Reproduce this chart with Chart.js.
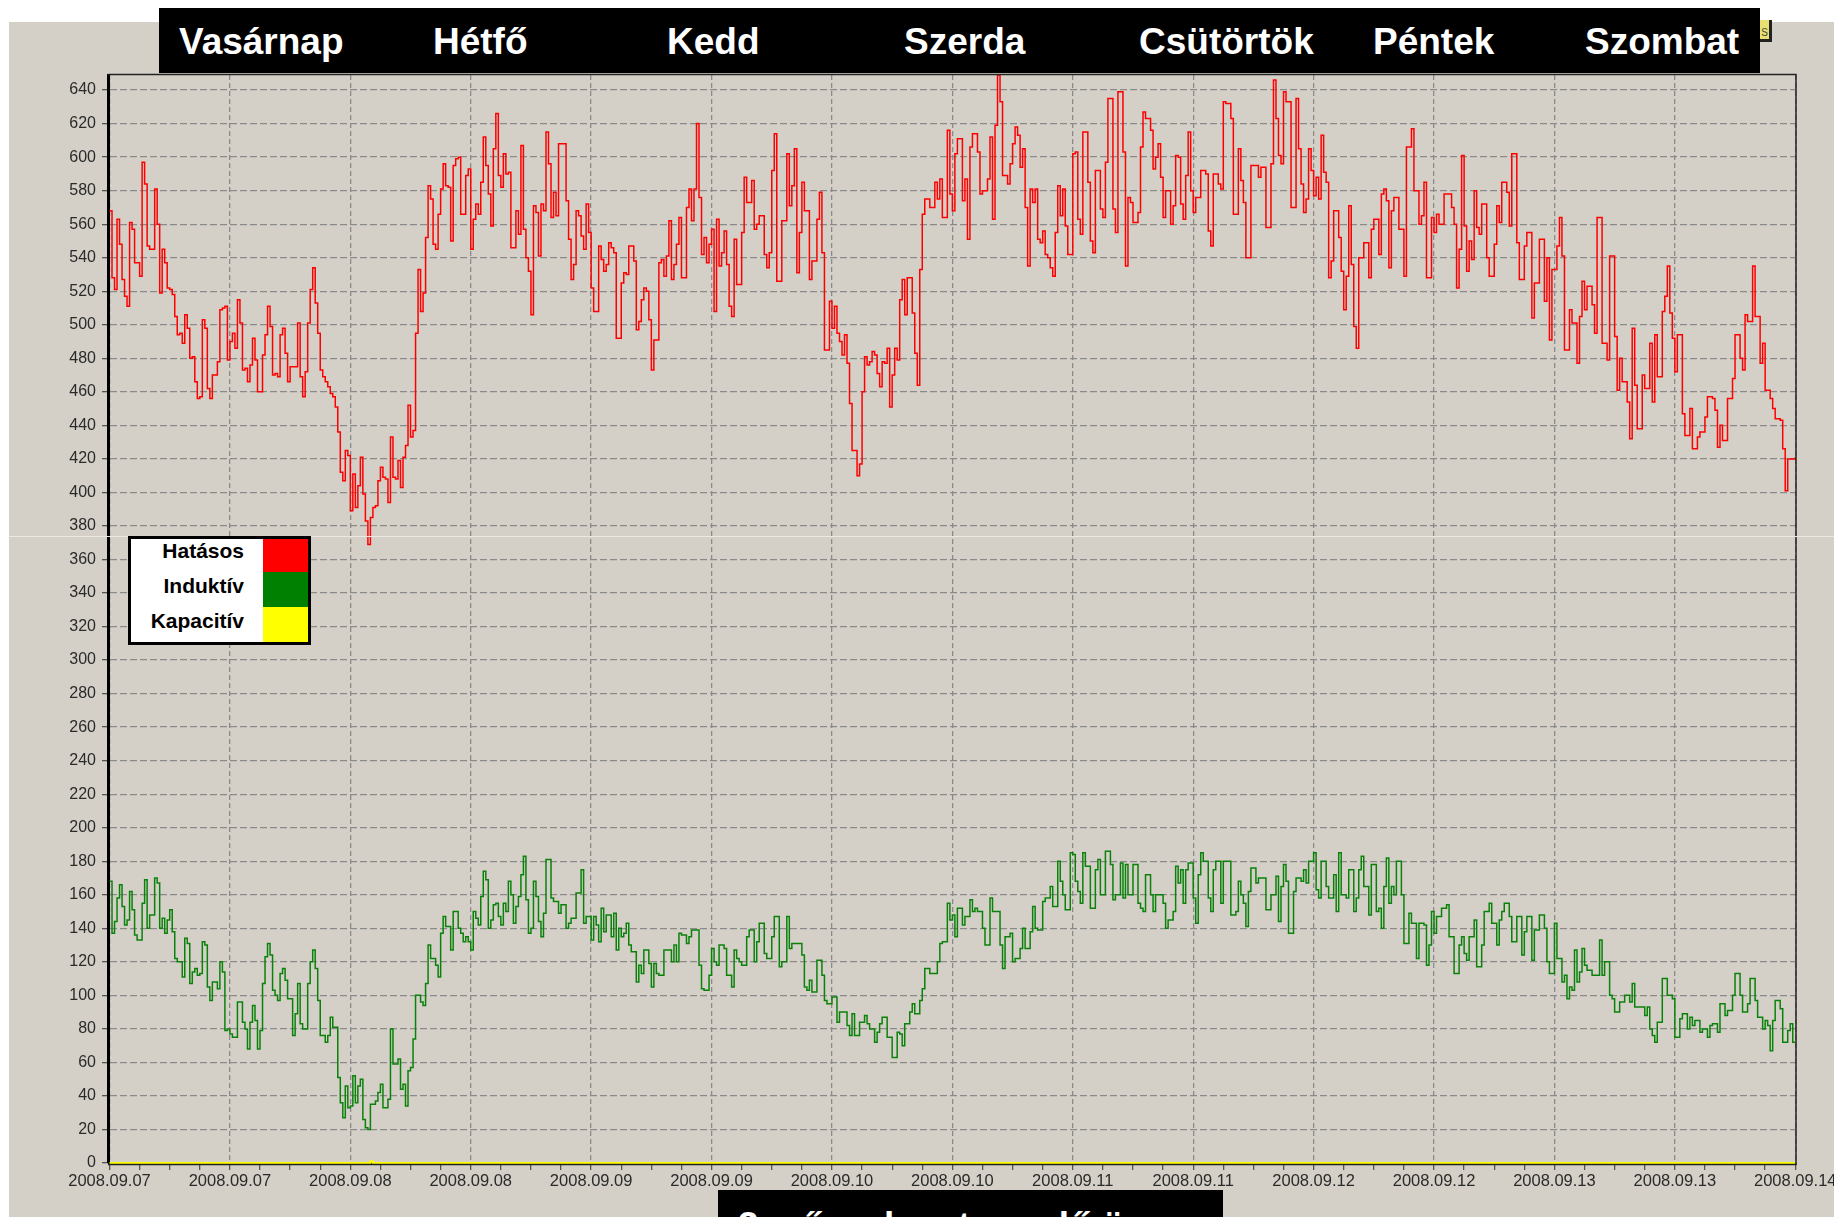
<!DOCTYPE html>
<html lang="hu">
<head>
<meta charset="utf-8">
<title>Terhelési görbe</title>
<script src="https://cdn.jsdelivr.net/npm/chart.js@4"></script>
<style>
html,body{margin:0;padding:0;background:#fff;width:1834px;height:1217px;overflow:hidden;font-family:"Liberation Sans",Arial,sans-serif}
#panel{position:absolute;left:9px;top:22px;right:0;bottom:0;background:#D4D0C8}
#chart{position:absolute;left:0;top:0}
#seam{position:absolute;left:9px;right:0;top:536px;height:1px;background:#ece9e3}
#banner{position:absolute;left:159px;top:8px;width:1601px;height:65px;background:#000}
.day{position:absolute;top:12px;line-height:44px;font-size:37px;font-weight:bold;color:#fff;white-space:nowrap}
#icon{position:absolute;left:1760px;top:20px;width:9px;height:19px;background:#e8e070;border-right:3px solid #222;border-bottom:3px solid #222;font-size:10px;line-height:26px;color:#444;text-align:center;overflow:hidden}
#foot{position:absolute;left:718px;top:1190px;width:505px;height:27px;background:#000;overflow:hidden}
#foot span{position:absolute;left:20px;top:14px;line-height:44px;font-size:37px;font-weight:bold;color:#fff;white-space:nowrap}
#legend{position:absolute;left:128px;top:536px;width:177px;height:103px;border:3px solid #000;background:#fff}
.lt{position:absolute;right:64px;font-size:21px;line-height:24px;font-weight:bold;color:#000;white-space:nowrap}
.sw{position:absolute;left:132px;width:45px}
</style>
</head>
<body>
<div id="panel"></div>
<canvas id="chart" width="1834" height="1217"></canvas>
<div id="seam"></div>
<div id="icon">S</div>
<div id="banner"></div>
<div id="foot"><span>3 műszakos termelő üzem</span></div>
<div id="legend"></div>
<script>
const dayNames = ["Vasárnap","Hétfő","Kedd","Szerda","Csütörtök","Péntek","Szombat"];
const dayLefts = [179,433,667,904,1139,1373,1585];
const legendNames = ["Hatásos","Induktív","Kapacitív"];
const legendColors = ["#FF0000","#008000","#FFFF00"];
const xTickLabels = ["2008.09.07","2008.09.07","2008.09.08","2008.09.08","2008.09.09","2008.09.09","2008.09.10","2008.09.10","2008.09.11","2008.09.11","2008.09.12","2008.09.12","2008.09.13","2008.09.13","2008.09.14"];

// Hatásos: one list per half day, one value per 15 minutes
const hatasos0 = [568,528,521,563,548,527,517,511,561,557,537,537,529,597,584,547,545,545,581,560,519,545,537,522,521,518,505,494,495,489,506,498,480,481,466,456,457,503,498,462,456,470,470,478,509,510,511,479];
const hatasos1 = [490,495,486,515,501,473,474,466,476,492,479,460,460,482,494,511,499,470,471,469,494,498,483,466,475,475,475,501,469,457,472,501,521,534,513,495,473,469,466,463,459,457,451,436,412,407,425,422];
const hatasos2 = [389,411,391,404,421,399,383,369,385,391,392,407,415,409,408,394,433,409,408,419,403,421,428,452,433,437,495,533,508,519,552,583,575,548,545,566,581,596,583,582,550,595,599,600,566,566,589,593];
const hatasos3 = [545,563,572,566,585,612,595,578,559,605,626,589,582,602,590,591,546,546,568,554,607,557,540,532,506,571,567,541,572,568,615,596,564,579,565,608,608,608,574,551,527,536,568,565,553,545,572,555];
const hatasos4 = [522,508,508,547,539,532,536,549,546,543,492,492,525,531,530,547,547,538,497,502,515,522,520,503,473,491,491,537,539,529,541,562,527,536,548,564,528,528,570,581,562,581,620,576,542,552,537,548];
const hatasos5 = [557,508,563,535,543,556,536,511,505,551,524,524,555,588,573,573,586,557,560,565,565,542,534,543,592,614,526,526,562,562,602,571,583,605,531,555,585,568,568,527,538,538,563,579,543,485,485,514];
const hatasos6 = [498,511,495,490,482,494,477,453,425,425,410,417,460,481,476,478,484,482,471,463,478,477,486,451,470,486,479,515,527,506,528,528,507,483,464,533,566,575,575,570,570,585,575,587,564,564,616,578];
const hatasos7 = [568,602,611,611,574,587,551,606,614,614,603,578,580,580,587,612,563,619,649,633,589,589,584,596,608,618,613,594,605,570,535,581,573,581,551,549,556,542,540,534,529,555,583,565,581,559,542,542];
const hatasos8 = [602,603,563,554,615,615,585,550,543,592,592,569,564,597,635,635,569,555,639,639,603,535,576,573,561,561,567,606,627,623,623,616,593,600,608,588,564,580,580,560,571,601,600,572,563,589,615,580];
const hatasos9 = [567,576,576,592,592,590,556,547,590,590,584,581,633,632,632,623,566,566,605,586,573,540,540,595,595,595,588,594,594,558,558,596,646,623,601,596,639,633,633,570,570,635,605,584,567,575,605,592];
const hatasos10 = [577,588,575,613,591,585,528,538,568,568,552,532,509,529,571,536,499,486,540,540,549,549,528,557,563,563,542,578,581,574,534,568,576,576,557,557,529,606,606,617,580,580,560,565,585,528,528,564];
const hatasos11 = [555,566,560,560,578,578,578,570,560,522,545,601,559,532,550,539,580,558,554,572,572,540,529,529,548,571,561,585,585,579,559,602,602,549,527,527,547,555,555,504,525,525,551,551,514,540,491,533];
const hatasos12 = [533,547,564,541,485,485,509,501,501,477,505,526,509,523,523,512,495,564,564,489,489,479,541,541,493,461,480,466,466,454,432,498,464,438,438,470,462,462,489,454,494,469,469,508,517,535,507,492];
const hatasos13 = [472,494,494,447,434,434,450,426,426,433,436,436,445,457,457,456,449,427,440,431,431,456,456,468,494,494,480,473,506,502,502,535,505,505,477,489,461,461,456,450,444,444,443,426,401,420,420,420,421];

// Induktív
const induktiv0 = [168,137,144,158,166,153,142,145,162,151,136,133,133,155,169,140,148,148,170,167,140,146,137,145,151,138,122,120,120,111,134,131,107,114,116,112,113,132,130,105,97,108,108,104,120,114,79,80];
const induktiv1 = [77,75,75,96,96,84,80,68,84,94,85,68,79,107,123,131,124,103,100,97,113,116,109,98,98,76,89,107,83,80,80,107,120,127,116,97,76,76,72,76,87,81,81,51,36,27,46,33];
const induktiv2 = [34,52,36,46,50,26,21,20,35,35,37,42,47,33,33,38,80,59,59,62,44,47,34,55,57,74,100,100,96,94,107,130,122,122,118,111,137,147,141,141,127,150,150,140,137,132,135,132];
const induktiv3 = [127,150,146,142,159,174,169,140,145,154,155,147,142,155,150,168,160,143,153,159,172,183,157,137,140,168,159,144,135,149,181,181,158,156,156,149,154,154,140,143,146,146,161,161,175,143,147,147];
const induktiv4 = [133,147,142,132,152,138,148,148,135,149,127,140,135,137,143,130,126,126,108,118,113,127,127,119,105,119,113,112,112,127,127,127,120,130,120,137,136,136,131,135,139,139,139,118,104,103,103,112];
const induktiv5 = [128,120,118,130,130,128,112,112,105,127,122,120,118,118,135,139,139,120,132,143,143,125,122,122,135,147,147,117,120,120,147,128,131,131,131,131,124,105,103,109,102,102,121,121,112,97,95,95];
const induktiv6 = [99,99,84,90,90,90,82,76,89,76,76,84,84,88,83,80,80,72,78,83,87,87,75,75,63,63,78,77,70,83,83,90,95,89,89,97,104,116,116,113,113,113,120,131,132,132,155,145];
const induktiv7 = [148,135,152,152,142,147,147,157,150,152,150,150,140,130,130,158,150,150,150,130,116,135,135,137,120,122,122,128,140,128,128,138,153,140,139,139,156,158,158,165,153,153,180,168,160,151,151,185];
const induktiv8 = [184,168,162,155,185,177,177,152,152,175,181,160,160,186,186,178,157,160,160,179,158,178,160,160,178,178,155,152,150,172,172,160,150,160,160,160,155,140,145,145,150,177,167,175,155,175,179,179];
const induktiv9 = [158,143,172,185,180,180,158,150,175,180,180,155,180,180,180,148,148,150,168,160,155,141,162,176,176,167,170,170,170,151,151,160,160,171,144,165,178,168,137,137,162,170,170,168,175,167,180,180];
const induktiv10 = [185,163,158,180,180,165,158,158,172,150,185,160,160,158,175,175,150,158,175,183,165,165,148,178,178,150,152,140,165,182,155,165,160,180,180,160,131,131,149,143,143,122,143,143,142,118,130,150];
const induktiv11 = [137,147,147,152,152,154,135,135,113,113,130,135,125,121,135,135,145,117,117,130,150,150,155,143,143,130,145,150,155,155,147,132,132,147,147,124,138,147,147,121,139,139,148,148,140,120,113,113];
const induktiv12 = [143,122,122,108,112,98,105,103,127,108,114,128,118,115,115,112,112,112,133,112,120,120,100,98,90,90,96,96,100,100,96,107,93,93,93,93,88,93,80,76,72,84,84,110,110,100,100,98];
const induktiv13 = [75,75,86,89,89,80,87,82,85,85,78,80,80,75,82,83,83,78,95,95,88,91,91,100,113,113,100,90,90,95,110,110,97,87,87,80,85,82,67,85,97,97,92,72,72,79,83,72,72];

// Kapacitív: stays on zero apart from one small blip
const kapacitivX = [0,103,104,105,672];
const kapacitivY = [0,0,1,0,0];

const hatasos = [].concat(hatasos0,hatasos1,hatasos2,hatasos3,hatasos4,hatasos5,hatasos6,hatasos7,hatasos8,hatasos9,hatasos10,hatasos11,hatasos12,hatasos13);
const induktiv = [].concat(induktiv0,induktiv1,induktiv2,induktiv3,induktiv4,induktiv5,induktiv6,induktiv7,induktiv8,induktiv9,induktiv10,induktiv11,induktiv12,induktiv13);

const toPoints = vals => vals.map((y,x)=>({x,y}));

const bannerEl = document.getElementById('banner');
dayNames.forEach((n,i)=>{
  const s=document.createElement('span');s.className='day';s.textContent=n;
  s.style.left=(dayLefts[i]-159)+'px';bannerEl.appendChild(s);
});
const legendEl = document.getElementById('legend');
const swTops=[0,33,68], swHs=[33,35,35], ltTops=[0,35,70];
legendNames.forEach((n,i)=>{
  const t=document.createElement('div');t.className='lt';t.textContent=n;t.style.top=ltTops[i]+'px';legendEl.appendChild(t);
  const w=document.createElement('div');w.className='sw';w.style.top=swTops[i]+'px';w.style.height=swHs[i]+'px';w.style.background=legendColors[i];legendEl.appendChild(w);
});

const framePlugin = {
  id:'frame',
  afterDatasetsDraw(c){
    const a=c.chartArea, x=c.ctx;
    x.save();x.strokeStyle='#222';x.lineWidth=1.5;
    x.beginPath();x.moveTo(a.left,a.top-0.5);x.lineTo(a.right,a.top-0.5);x.lineTo(a.right,a.bottom+1.5);x.lineTo(a.left,a.bottom+1.5);x.stroke();
    x.restore();
  }
};

new Chart(document.getElementById('chart'),{
  type:'line',
  plugins:[framePlugin],
  data:{datasets:[
    {label:legendNames[0],data:toPoints(hatasos),borderColor:'#FF0000',borderWidth:1.5,stepped:true,pointRadius:0},
    {label:legendNames[1],data:toPoints(induktiv),borderColor:'#0A820A',borderWidth:1.5,stepped:true,pointRadius:0},
    {label:legendNames[2],data:kapacitivX.map((x,i)=>({x,y:kapacitivY[i]})),borderColor:'#FFFF00',borderWidth:2,stepped:true,pointRadius:0,clip:false}
  ]},
  options:{
    responsive:false,animation:false,
    layout:{padding:{left:0,top:75,right:38,bottom:0}},
    plugins:{legend:{display:false},title:{display:false},tooltip:{enabled:false}},
    scales:{
      x:{type:'linear',min:-0.6,max:672.3,
        border:{display:true,color:'#000',width:1,dash:[5,3]},
        grid:{drawOnChartArea:true,drawTicks:true,tickLength:7,lineWidth:1.3,
          color:c=>c.tick&&c.tick.value%48===0?'#8a8a8a':'rgba(0,0,0,0)',
          tickColor:'#555',tickBorderDash:[]},
        ticks:{stepSize:12,includeBounds:false,autoSkip:false,maxRotation:0,minRotation:0,padding:2,
          font:{family:'"Liberation Sans",Arial,sans-serif',size:16.5},color:'#2a2a2a',
          callback:v=>v%48===0?xTickLabels[v/48]:''},
        afterFit(s){s.height=54;s.paddingLeft=0;s.paddingRight=0;}
      },
      y:{type:'linear',min:0,max:649,
        border:{display:true,color:'#000',width:3,dash:[7,3]},
        grid:{color:'#8a8a8a',lineWidth:1.3,tickLength:6,tickColor:'#555',tickBorderDash:[]},
        ticks:{stepSize:20,includeBounds:false,padding:6,
          font:{family:'"Liberation Sans",Arial,sans-serif',size:16},color:'#2a2a2a'},
        afterFit(s){s.width=108;s.paddingTop=0;s.paddingBottom=0;}
      }
    }
  }
});
</script>
</body>
</html>
